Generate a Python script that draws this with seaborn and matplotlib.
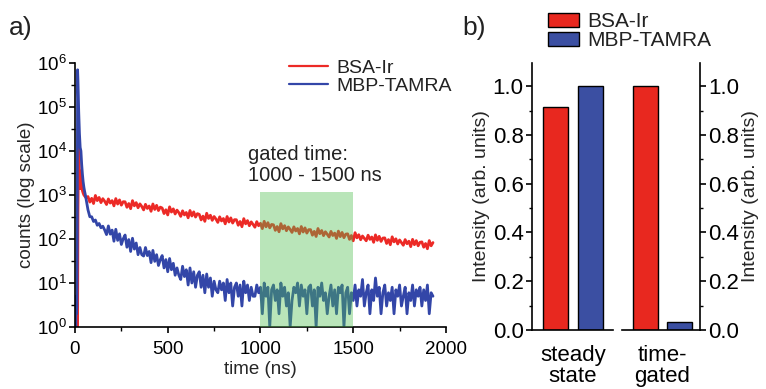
import numpy as np
import pandas as pd
import matplotlib
matplotlib.use("Agg")
import matplotlib.pyplot as plt
import matplotlib.ticker as mticker
import seaborn as sns

# ---------------- panel a: luminescence decays ----------------
samples = ["BSA-Ir", "MBP-TAMRA"]

# first 60 ns (excitation pulse region)
time_early = [0, 2, 4, 6, 8, 10, 12, 14, 16, 20, 24, 28, 32, 36, 40, 44, 48, 52, 56, 60]
bsa_early = [1, 1, 1, 1, 1, 1, 1, 1, 400, 20000, 3000, 1400, 3500, 1500, 1250,
             1100, 1000, 950, 900, 870]
mbp_early = [3, 5, 1, 4, 2, 3, 90, 700000, 400000, 80000, 25000, 12000, 10000,
             5000, 3000, 2000, 1500, 1200, 1000, 800]

# 70 ns ... 1930 ns, one channel every 10 ns
time_tail = list(range(70, 1940, 10))
bsa_tail = [
    920, 690, 840, 640, 975, 745, 880, 670, 825, 720,
    607, 814, 655, 745, 566, 828, 621, 773, 587, 704,
    700, 525, 640, 488, 744, 567, 671, 512, 628, 549,
    458, 614, 494, 562, 426, 624, 468, 582, 442, 530,
    506, 378, 462, 352, 537, 409, 484, 370, 453, 396,
    326, 437, 352, 400, 303, 444, 333, 414, 315, 377,
    362, 271, 331, 252, 384, 293, 347, 265, 324, 284,
    238, 319, 257, 292, 221, 324, 243, 302, 230, 275,
    274, 205, 250, 190, 290, 221, 262, 200, 245, 214,
    185, 248, 200, 227, 172, 252, 189, 235, 179, 214,
    210, 157, 192, 146, 223, 170, 201, 154, 188, 165,
    141, 189, 152, 173, 131, 192, 144, 179, 136, 163,
    163, 122, 149, 114, 173, 132, 156, 119, 146, 128,
    111, 149, 120, 136, 103, 151, 113, 141, 107, 129,
    131, 98, 120, 91, 139, 106, 125, 96, 117, 103,
    91, 122, 98, 111, 84, 124, 93, 115, 88, 105,
    106, 79, 97, 74, 112, 86, 101, 77, 95, 83,
    72, 97, 78, 89, 67, 98, 74, 92, 70, 84,
    86, 65, 79, 60, 92, 70, 83,
]
mbp_tail = [
    460, 320, 320, 250, 270, 205, 225, 180, 195, 160,
    126, 198, 129, 159, 89, 166, 93, 131, 75, 101,
    123, 65, 97, 52, 104, 59, 81, 44, 64, 44,
    41, 64, 42, 52, 29, 55, 31, 44, 25, 34,
    42, 22, 34, 18, 36, 20, 28, 15, 22, 15,
    12, 24, 14, 20, 9, 22, 10, 18, 8, 15,
    18, 8, 15, 6, 16, 8, 13, 5, 11, 7,
    6, 11, 7, 10, 4, 12, 6, 10, 3, 8,
    10, 5, 9, 3, 11, 6, 9, 4, 8, 5,
    5, 9, 6, 8, 2, 10, 5, 8, 1, 7,
    9, 4, 7, 2, 10, 5, 8, 3, 6, 1,
    4, 8, 6, 10, 3, 9, 5, 7, 2, 8,
    9, 3, 7, 1, 8, 5, 10, 4, 6, 2,
    5, 9, 3, 7, 2, 8, 6, 9, 1, 6,
    8, 2, 6, 4, 9, 3, 7, 5, 12, 3,
    6, 9, 2, 7, 4, 13, 5, 8, 2, 6,
    9, 3, 6, 4, 8, 2, 7, 5, 9, 3,
    5, 8, 2, 6, 4, 9, 3, 7, 5, 8,
    3, 7, 4, 9, 2, 6, 5,
]
gate = [1000, 1500]

# ---------------- panel b: integrated intensities ----------------
conditions = ["steady\nstate", "time-\ngated"]
bsa_intensity = [0.915, 1.0]
mbp_intensity = [1.0, 0.033]

line_colors = {"BSA-Ir": "#ec2a26", "MBP-TAMRA": "#3346a8"}
bar_colors = {"BSA-Ir": "#e8281f", "MBP-TAMRA": "#3b4fa2"}

sns.set_theme(style="ticks")
plt.rcParams["font.family"] = ["Liberation Sans", "DejaVu Sans"]
plt.rcParams["mathtext.fontset"] = "custom"
plt.rcParams["mathtext.rm"] = "Liberation Sans"
plt.rcParams["mathtext.it"] = "Liberation Sans:italic"
plt.rcParams["axes.linewidth"] = 1.2
plt.rcParams["axes.edgecolor"] = "black"
plt.rcParams["xtick.color"] = "black"
plt.rcParams["ytick.color"] = "black"
plt.rcParams["text.color"] = "#222222"

decay = pd.concat([
    pd.DataFrame({"time": time_early + time_tail, "counts": bsa_early + bsa_tail, "sample": samples[0]}),
    pd.DataFrame({"time": time_early + time_tail, "counts": mbp_early + mbp_tail, "sample": samples[1]}),
])
bars = pd.DataFrame({
    "condition": conditions * 2,
    "sample": [samples[0]] * 2 + [samples[1]] * 2,
    "intensity": bsa_intensity + mbp_intensity,
})

fig = plt.figure(figsize=(7.66, 3.89), dpi=100)

# ----- panel a -----
ax_a = fig.add_axes([0.0979, 0.1594, 0.4843, 0.6787])
sns.lineplot(data=decay, x="time", y="counts", hue="sample", hue_order=samples,
             palette=line_colors, estimator=None, sort=False, lw=2.0, ax=ax_a)
ax_a.set_yscale("log")
ax_a.set_xlim(0, 2000)
ax_a.set_ylim(1, 1e6)
ax_a.axvspan(gate[0], gate[1], ymin=0, ymax=0.51, color="#50c050", alpha=0.4, lw=0, zorder=3)
ax_a.xaxis.set_major_locator(mticker.MultipleLocator(500))
ax_a.xaxis.set_minor_locator(mticker.MultipleLocator(250))
ax_a.yaxis.set_major_locator(mticker.LogLocator(base=10, numticks=10))
ax_a.yaxis.set_minor_locator(mticker.LogLocator(base=10, subs=(10 ** 0.5,), numticks=10))
ax_a.yaxis.set_minor_formatter(mticker.NullFormatter())
ax_a.tick_params(which="major", length=4, width=1.2, labelsize=13.5, pad=2)
ax_a.tick_params(axis="x", which="major", pad=6)
ax_a.tick_params(which="minor", length=3, width=1.0)
ax_a.set_xlabel("time (ns)", fontsize=13.5, labelpad=2)
ax_a.set_ylabel("counts (log scale)", fontsize=13.5, labelpad=1)
sns.despine(ax=ax_a)
ax_a.legend(loc="upper left", bbox_to_anchor=(0.55, 1.05), frameon=False, fontsize=14,
            handlelength=2.0, handletextpad=0.45, labelspacing=0.02, borderpad=0)
for line in ax_a.get_legend().get_lines():
    line.set_linewidth(1.6)
ax_a.text(0.466, 0.614, "gated time:\n1000 - 1500 ns", transform=ax_a.transAxes,
          ha="left", va="center", fontsize=14.5, linespacing=1.1)

# ----- panel b (broken x axis: two axes) -----
ax_l = fig.add_axes([0.6945, 0.1517, 0.1057, 0.6864])
ax_r = fig.add_axes([0.8120, 0.1517, 0.1018, 0.6864])
for ax, cond, xlim in [(ax_l, conditions[0], (-0.477, 0.465)),
                       (ax_r, conditions[1], (-0.47, 0.436))]:
    sns.barplot(data=bars[bars["condition"] == cond], x="condition", y="intensity",
                hue="sample", hue_order=samples, palette=bar_colors, width=0.8, gap=0.27,
                saturation=1, edgecolor="black", linewidth=1.0, ax=ax, legend=(ax is ax_l))
    ax.set_xlim(*xlim)
    ax.set_ylim(0, 1.095)
    ax.yaxis.set_major_locator(mticker.MultipleLocator(0.2))
    ax.yaxis.set_minor_locator(mticker.MultipleLocator(0.1))
    ax.yaxis.set_major_formatter(mticker.FormatStrFormatter("%.1f"))
    ax.tick_params(axis="y", which="major", length=4, width=1.2, labelsize=16, pad=2)
    ax.tick_params(axis="y", which="minor", length=2.5, width=1.0)
    ax.tick_params(axis="x", length=0, labelsize=16, pad=11)
    for lbl in ax.get_xticklabels():
        lbl.set_linespacing(1.0)
    ax.set_xlabel("")
    ax.set_ylabel("Intensity (arb. units)", fontsize=14, labelpad=2)

sns.despine(ax=ax_l)
ax_r.spines["top"].set_visible(False)
ax_r.spines["left"].set_visible(False)
ax_r.yaxis.tick_right()
ax_r.yaxis.set_label_position("right")
ax_r.set_ylabel("Intensity (arb. units)", fontsize=14, labelpad=2, rotation=90)

handles, labels = ax_l.get_legend_handles_labels()
ax_l.get_legend().remove()
fig.legend(handles, labels, loc="upper left", bbox_to_anchor=(0.702, 0.995), frameon=False,
           fontsize=15, handlelength=1.5, handleheight=0.7, handletextpad=0.4,
           labelspacing=0.0, borderpad=0)

fig.text(0.012, 0.96, "a)", fontsize=19, va="top")
fig.text(0.603, 0.96, "b)", fontsize=19, va="top")

fig.savefig("out.png", dpi=100)
